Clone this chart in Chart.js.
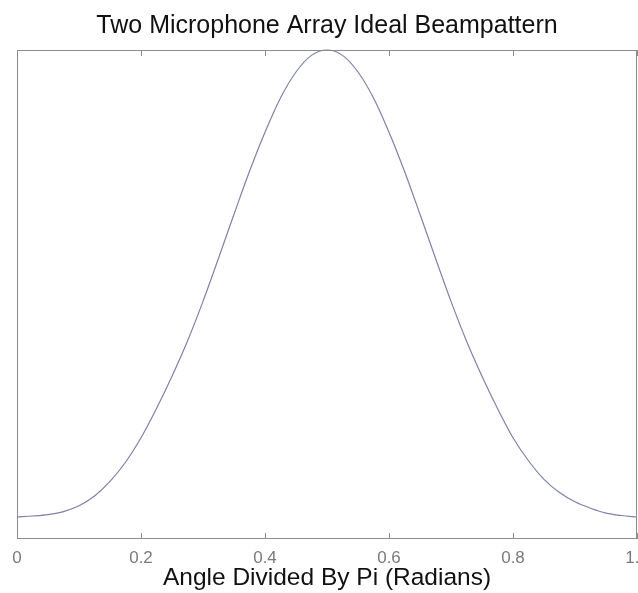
<!DOCTYPE html>
<html>
<head>
<meta charset="utf-8">
<script src="https://cdn.jsdelivr.net/npm/chart.js@4/dist/chart.umd.min.js"></script>
<style>
	html, body { margin: 0; padding: 0; background: #fff; }
	#wrap { width: 638px; height: 593px; }
</style>
</head>
<body>
<div id="wrap"><canvas id="beam"></canvas></div>
<script>
// angle / pi, every 0.025
const angles = [
	0, 0.025, 0.05, 0.075, 0.1, 0.125, 0.15, 0.175, 0.2, 0.225,
	0.25, 0.275, 0.3, 0.325, 0.35, 0.375, 0.4, 0.425, 0.45, 0.475,
	0.5, 0.525, 0.55, 0.575, 0.6, 0.625, 0.65, 0.675, 0.7, 0.725,
	0.75, 0.775, 0.8, 0.825, 0.85, 0.875, 0.9, 0.925, 0.95, 0.975, 1
];
// normalised response (peak = 1)
const response = [
	0.045, 0.047, 0.050, 0.056, 0.068, 0.088, 0.118, 0.157, 0.207, 0.267,
	0.333, 0.405, 0.486, 0.574, 0.664, 0.752, 0.832, 0.902, 0.955, 0.989,
	1.000, 0.989, 0.955, 0.902, 0.832, 0.752, 0.664, 0.574, 0.486, 0.405,
	0.333, 0.267, 0.207, 0.160, 0.122, 0.095, 0.076, 0.063, 0.053, 0.048, 0.045
];
const xTicks = [0, 0.2, 0.4, 0.6, 0.8, 1];

const TITLE = "Two Microphone Array Ideal Beampattern";
const X_TITLE = "Angle Divided By Pi (Radians)";

const points = angles.map((a, i) => ({ x: a, y: response[i] }));

// matlab style box with inward ticks
const boxPlugin = {
	id: "box",
	afterDraw(chart) {
		const { ctx, chartArea: a, scales } = chart;
		ctx.save();
		ctx.strokeStyle = "#8c8c8c";
		ctx.lineWidth = 1;
		ctx.strokeRect(a.left + 0.5, a.top + 0.5, a.right - a.left - 1, a.bottom - a.top - 1);
		ctx.beginPath();
		xTicks.forEach((t) => {
			const px = Math.round(scales.x.getPixelForValue(t)) + 0.5;
			ctx.moveTo(px, a.bottom);
			ctx.lineTo(px, a.bottom - 6);
			ctx.moveTo(px, a.top);
			ctx.lineTo(px, a.top + 6);
		});
		ctx.stroke();
		ctx.restore();
	}
};

new Chart(document.getElementById("beam"), {
	type: "line",
	data: {
		datasets: [{
			data: points,
			borderColor: "#8080aa",
			borderWidth: 1.2,
			pointRadius: 0,
			cubicInterpolationMode: "monotone",
			fill: false,
			clip: 3
		}]
	},
	options: {
		responsive: true,
		maintainAspectRatio: false,
		animation: false,
		layout: { padding: { left: 17, right: 1, top: 0, bottom: 0 } },
		plugins: {
			legend: { display: false },
			tooltip: { enabled: false },
			title: {
				display: true,
				text: TITLE,
				color: "#111",
				font: { family: "'Liberation Sans', Arial, sans-serif", size: 25, weight: "normal" },
				padding: { top: 11, bottom: 9 }
			}
		},
		scales: {
			x: {
				type: "linear",
				min: 0,
				max: 1,
				grid: { display: false, drawTicks: false },
				border: { display: false },
				ticks: {
					stepSize: 0.2,
					padding: 11,
					maxRotation: 0,
					color: "#7a7a7a",
					font: { family: "'Liberation Sans', Arial, sans-serif", size: 17, lineHeight: 1 }
				},
				title: {
					display: true,
					text: X_TITLE,
					color: "#111",
					padding: { top: 0, bottom: 3 },
					font: { family: "'Liberation Sans', Arial, sans-serif", size: 24.5, lineHeight: 1 }
				},
				afterFit(scale) {
					scale.paddingRight = 0;
					scale.height = 54;
				}
			},
			y: {
				display: false,
				min: 0,
				max: 1
			}
		}
	},
	plugins: [boxPlugin]
});
</script>
</body>
</html>
